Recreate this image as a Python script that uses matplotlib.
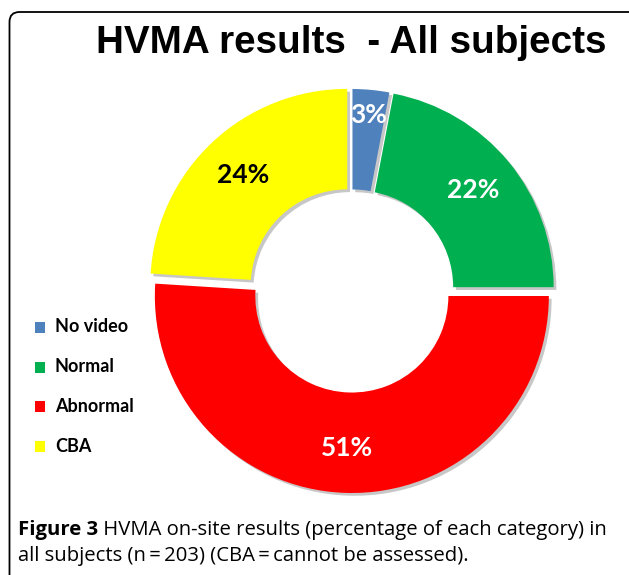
import matplotlib
matplotlib.use("Agg")
import matplotlib.pyplot as plt
from matplotlib.patches import FancyBboxPatch
import matplotlib.patheffects as pe

categories = ["No video", "Normal", "Abnormal", "CBA"]
percentages = [3, 22, 51, 24]
colors = ["#4F81BD", "#00B050", "#FF0000", "#FFFF00"]
label_colors = ["white", "white", "white", "black"]
explode_px = [5, 6, 5, 7]
title = "HVMA results  - All subjects"
caption_bold = "Figure 3"
caption_rest1 = " HVMA on-site results (percentage of each category) in"
caption_line2 = "all subjects (n\u2009=\u2009203) (CBA\u2009=\u2009cannot be assessed)."

W, H = 629, 575
fig = plt.figure(figsize=(W / 100, H / 100), dpi=100)
fig.patch.set_facecolor("white")

ax = fig.add_axes([0, 0, 1, 1])
ax.set_xlim(0, W)
ax.set_ylim(0, H)
ax.set_aspect("equal")
ax.axis("off")

# frame
frame = FancyBboxPatch((9.5, -20), W + 20, (H - 12) + 20,
                       boxstyle="round,pad=0,rounding_size=10",
                       transform=ax.transData, fill=False, edgecolor="black",
                       linewidth=1.3, clip_on=False)
ax.add_patch(frame)

cx, cy, R = 352, H - 291, 197
wedges, texts, autotexts = ax.pie(
    percentages, colors=colors, startangle=90, counterclock=False,
    explode=explode_px, center=(cx, cy), radius=R,
    wedgeprops=dict(width=R * 0.51, edgecolor="none",
                    path_effects=[pe.SimplePatchShadow(offset=(2, -2), alpha=0.22,
                                                       shadow_rgbFace="black"),
                                  pe.Normal()]),
    autopct=lambda p: f"{p:.0f}%", pctdistance=0.77,
    textprops=dict(fontsize=19, fontweight="bold", family=["Lato", "DejaVu Sans"]),
    frame=False)
ax.set_xlim(0, W)
ax.set_ylim(0, H)

for t, c in zip(autotexts, label_colors):
    t.set_color(c)
# push the tiny slice's label outward
x0, y0 = autotexts[0].get_position()
autotexts[0].set_position((cx + (x0 - cx) * 1.13, cy + (y0 - cy) * 1.13))

fig.text(351 / W, 1 - 43 / H, title, ha="center", va="center",
         fontsize=27.8, fontweight="bold", family=["Liberation Sans", "DejaVu Sans"])

# legend
legend_y = [327, 367, 406, 446]
for name, col, yy in zip(categories, colors, legend_y):
    ax.add_patch(plt.Rectangle((35, H - yy - 5.5), 10, 11, facecolor=col,
                               edgecolor="none"))
    ax.text(55, H - yy, name, ha="left", va="center", fontsize=13,
            fontweight="bold", family=["Lato", "DejaVu Sans"])

# caption
fs = 14.6
t1 = fig.text(18 / W, 1 - 530 / H, caption_bold, ha="left", va="center",
              fontsize=fs, fontweight="bold", family=["Open Sans", "DejaVu Sans"])
fig.canvas.draw()
bb = t1.get_window_extent()
fig.text(bb.x1 / W, 1 - 530 / H, caption_rest1, ha="left", va="center",
         fontsize=fs, family=["Open Sans", "DejaVu Sans"])
fig.text(18 / W, 1 - 556 / H, caption_line2, ha="left", va="center",
         fontsize=fs, family=["Open Sans", "DejaVu Sans"])

fig.savefig("out.png", dpi=100)
